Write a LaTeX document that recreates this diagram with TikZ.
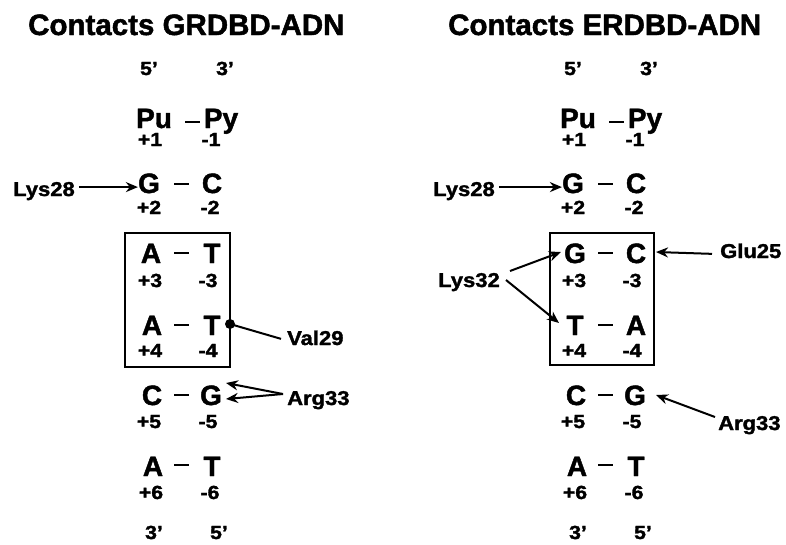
\documentclass[tikz,border=0pt]{standalone}
\usepackage{fontspec}
\setmainfont{Liberation Sans}[BoldFeatures={FakeBold=1.6}]
\usetikzlibrary{arrows.meta}
\newcommand{\wdn}[1]{\scalebox{1.12}[1]{#1}}
\newcommand{\lbn}[1]{\scalebox{1.1}[1]{#1}}
\begin{document}
\begin{tikzpicture}[x=1pt,y=-1pt,
  big/.style={font=\fontsize{28}{28}\selectfont\bfseries, inner sep=0pt, anchor=base, text depth=0pt},
  num/.style={font=\fontsize{19}{19}\selectfont\bfseries, inner sep=0pt, anchor=base, text height=14pt},
  lab/.style={font=\fontsize{20}{20}\selectfont\bfseries, inner sep=0pt, anchor=base west},
  ttl/.style={font=\fontsize{29.5}{29.5}\selectfont\bfseries, inner sep=0pt, anchor=base west},
  bond/.style={line width=2.4pt},
  arr/.style={line width=2pt, -{Stealth[length=12pt,width=10pt]}},
  boxst/.style={draw, line width=2.2pt, inner sep=0pt}]
\useasboundingbox (0,0) rectangle (786,544);
% titles
\node[ttl] (t1) at (28,35) {Contacts GRDBD-ADN};
\node[ttl] (t2) at (448,35) {Contacts ERDBD-ADN};
% ---------- left column ----------
\node[num] (l5p) at (149,75) {\wdn{5'}};
\node[num] (l3p) at (225,75) {\wdn{3'}};
\node[big] (lPu) at (154,128) {Pu};
\node[big] (lPy) at (221,128) {Py};
\draw[bond] (185,122) -- (200,122);
\node[num] (lp1) at (150,146) {\wdn{+1}};
\node[num] (lm1) at (211,146) {\wdn{-1}};
\node[big] (lG2) at (149,193) {G};
\node[big] (lC2) at (212,193) {C};
\draw[bond] (174,184) -- (189,184);
\node[num] (lp2) at (149,214) {\wdn{+2}};
\node[num] (lm2) at (210,214) {\wdn{-2}};
\node[big] (lA3) at (151,263) {A};
\node[big] (lT3) at (212,263) {T};
\draw[bond] (174,253) -- (189,253);
\node[num] (lp3) at (150,287) {\wdn{+3}};
\node[num] (lm3) at (208,287) {\wdn{-3}};
\node[big] (lA4) at (152,335) {A};
\node[big] (lT4) at (212,335) {T};
\draw[bond] (174,325) -- (189,325);
\node[num] (lp4) at (150,357) {\wdn{+4}};
\node[num] (lm4) at (208,357) {\wdn{-4}};
\node[big] (lC5) at (152,405) {C};
\node[big] (lG5) at (211,405) {G};
\draw[bond] (174,395) -- (189,395);
\node[num] (lp5) at (149,428) {\wdn{+5}};
\node[num] (lm5) at (208,428) {\wdn{-5}};
\node[big] (lA6) at (153,476) {A};
\node[big] (lT6) at (212,476) {T};
\draw[bond] (174,465) -- (189,465);
\node[num] (lp6) at (151,499) {\wdn{+6}};
\node[num] (lm6) at (210,499) {\wdn{-6}};
\node[num] (lb3p) at (154,539) {\wdn{3'}};
\node[num] (lb5p) at (219,539) {\wdn{5'}};
\node[boxst, minimum width=105pt, minimum height=134pt] (boxL) at (177.5,300) {};
% left labels
\node[lab] (lLys28) at (13,196) {\lbn{Lys28}};
\draw[arr] (lLys28.east) ++(4,-4) coordinate (lk1) -- (lG2.west |- lk1);
\node[circle, fill, inner sep=0pt, minimum size=10pt] (vdot) at (230,324) {};
\node[lab] (lVal29) at (287,345) {\lbn{Val29}};
\draw[line width=2pt] (vdot.center) -- ([xshift=-6pt,yshift=-1pt]lVal29.west);
\node[lab] (lArg33) at (287,405) {\lbn{Arg33}};
\coordinate (ar0) at (283,394);
\draw[arr] (ar0) -- (226,383);
\draw[arr] (ar0) -- (226,399);
% ---------- right column ----------
\node[num] (r5p) at (573,75) {\wdn{5'}};
\node[num] (r3p) at (649,75) {\wdn{3'}};
\node[big] (rPu) at (578,128) {Pu};
\node[big] (rPy) at (645,128) {Py};
\draw[bond] (609,122) -- (624,122);
\node[num] (rp1) at (574,146) {\wdn{+1}};
\node[num] (rm1) at (635,146) {\wdn{-1}};
\node[big] (rG2) at (573,193) {G};
\node[big] (rC2) at (636,193) {C};
\draw[bond] (598,184) -- (613,184);
\node[num] (rp2) at (573,214) {\wdn{+2}};
\node[num] (rm2) at (634,214) {\wdn{-2}};
\node[big] (rG3) at (575,263) {G};
\node[big] (rC3) at (636,263) {C};
\draw[bond] (598,253) -- (613,253);
\node[num] (rp3) at (574,287) {\wdn{+3}};
\node[num] (rm3) at (632,287) {\wdn{-3}};
\node[big] (rT4) at (575,335) {T};
\node[big] (rA4) at (636,335) {A};
\draw[bond] (598,325) -- (613,325);
\node[num] (rp4) at (574,357) {\wdn{+4}};
\node[num] (rm4) at (632,357) {\wdn{-4}};
\node[big] (rC5) at (576,405) {C};
\node[big] (rG5) at (635,405) {G};
\draw[bond] (598,395) -- (613,395);
\node[num] (rp5) at (573,428) {\wdn{+5}};
\node[num] (rm5) at (632,428) {\wdn{-5}};
\node[big] (rA6) at (577,476) {A};
\node[big] (rT6) at (636,476) {T};
\draw[bond] (598,465) -- (613,465);
\node[num] (rp6) at (575,499) {\wdn{+6}};
\node[num] (rm6) at (634,499) {\wdn{-6}};
\node[num] (rb3p) at (578,539) {\wdn{3'}};
\node[num] (rb5p) at (643,539) {\wdn{5'}};
\node[boxst, minimum width=104pt, minimum height=132pt] (boxR) at (602,299) {};
% right labels
\node[lab] (rLys28) at (433,196) {\lbn{Lys28}};
\draw[arr] (rLys28.east) ++(4,-4) coordinate (rk1) -- (rG2.west |- rk1);
\node[lab] (rGlu25) at (720,258) {\lbn{Glu25}};
\draw[arr] ([xshift=-8pt,yshift=-3pt]rGlu25.west) -- (656,252);
\node[lab] (rLys32) at (438,287) {\lbn{Lys32}};
\draw[arr] (510,271) -- (561,252);
\draw[arr] (506,280) -- (559,323);
\node[lab] (rArg33) at (718,430) {\lbn{Arg33}};
\draw[arr] (715,417) -- (656,395);
\end{tikzpicture}
\end{document}
